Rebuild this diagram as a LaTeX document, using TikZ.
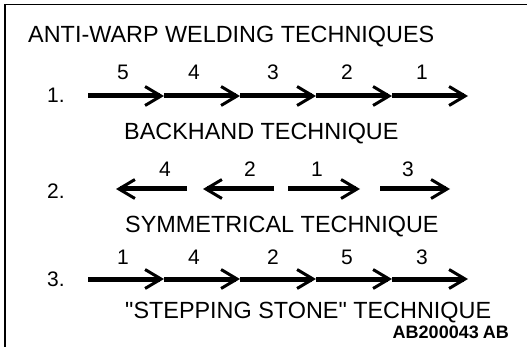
\documentclass[tikz,border=0pt]{standalone}
\usepackage{fontspec}
\setmainfont{Liberation Sans}[Ligatures=TeXOff]
\usetikzlibrary{arrows.meta}
\begin{document}
\begin{tikzpicture}[x=1pt,y=-1pt,
  caption/.style={inner sep=0pt,anchor=base west,font=\fontsize{23.4}{27}\selectfont},
  order/.style={inner sep=0pt,anchor=base,font=\fontsize{21}{25}\selectfont},
  rowno/.style={inner sep=0pt,anchor=base west,font=\fontsize{21}{25}\selectfont},
  weld/.style={line width=5pt,-{Straight Barb[length=16pt,width=19pt,line width=3pt]}},
  frame/.style={line width=1.2pt}]
\useasboundingbox (0,0) rectangle (527,347);

% open frame: top and left edges only
\coordinate (fTL) at (5,4.5);
\coordinate (fTR) at (527,4.5);
\coordinate (fBL) at (5,347);
\draw[frame] (fTR) -- (fTL) -- (fBL);

\node[caption] (title) at (28,43) {ANTI-WARP WELDING TECHNIQUES};

% 1. backhand
\node[rowno] (n1) at (47,103) {1.};
\foreach \i/\x in {0/88,1/164,2/240,3/316,4/392,5/468}
  \coordinate (a\i) at (\x,96);
\foreach \i/\j in {0/1,1/2,2/3,3/4,4/5}
  \draw[weld] (a\i) -- (a\j);
\foreach \t/\x in {5/123,4/194,3/273,2/347,1/422}
  \node[order] (ra\t) at (\x,80) {\t};
\node[caption] (back) at (124,140) {BACKHAND TECHNIQUE};

% 2. symmetrical
\node[rowno] (n2) at (47,199) {2.};
\coordinate (b1s) at (187,189); \coordinate (b1e) at (116,189);
\coordinate (b2s) at (274,189); \coordinate (b2e) at (203,189);
\coordinate (b3s) at (288,189); \coordinate (b3e) at (360,189);
\coordinate (b4s) at (380,189); \coordinate (b4e) at (450,189);
\foreach \i in {1,2,3,4}
  \draw[weld] (b\i s) -- (b\i e);
\foreach \t/\x in {4/165,2/250,1/317,3/408}
  \node[order] (rb\t) at (\x,177) {\t};
\node[caption] (sym) at (125,233) {SYMMETRICAL TECHNIQUE};

% 3. stepping stone
\node[rowno] (n3) at (47,286) {3.};
\foreach \i/\x in {0/88,1/164,2/240,3/316,4/392,5/468}
  \coordinate (c\i) at (\x,279);
\foreach \i/\j in {0/1,1/2,2/3,3/4,4/5}
  \draw[weld] (c\i) -- (c\j);
\foreach \t/\x in {1/123,4/194,2/273,5/347,3/422}
  \node[order] (rc\t) at (\x,265) {\t};
\node[caption] (step) at (125,318) {"STEPPING STONE" TECHNIQUE};

\node[inner sep=0pt,anchor=base east,font=\fontsize{18}{21}\selectfont\bfseries] (code) at (509,338) {AB200043\kern-1pt\ AB};
\end{tikzpicture}
\end{document}
